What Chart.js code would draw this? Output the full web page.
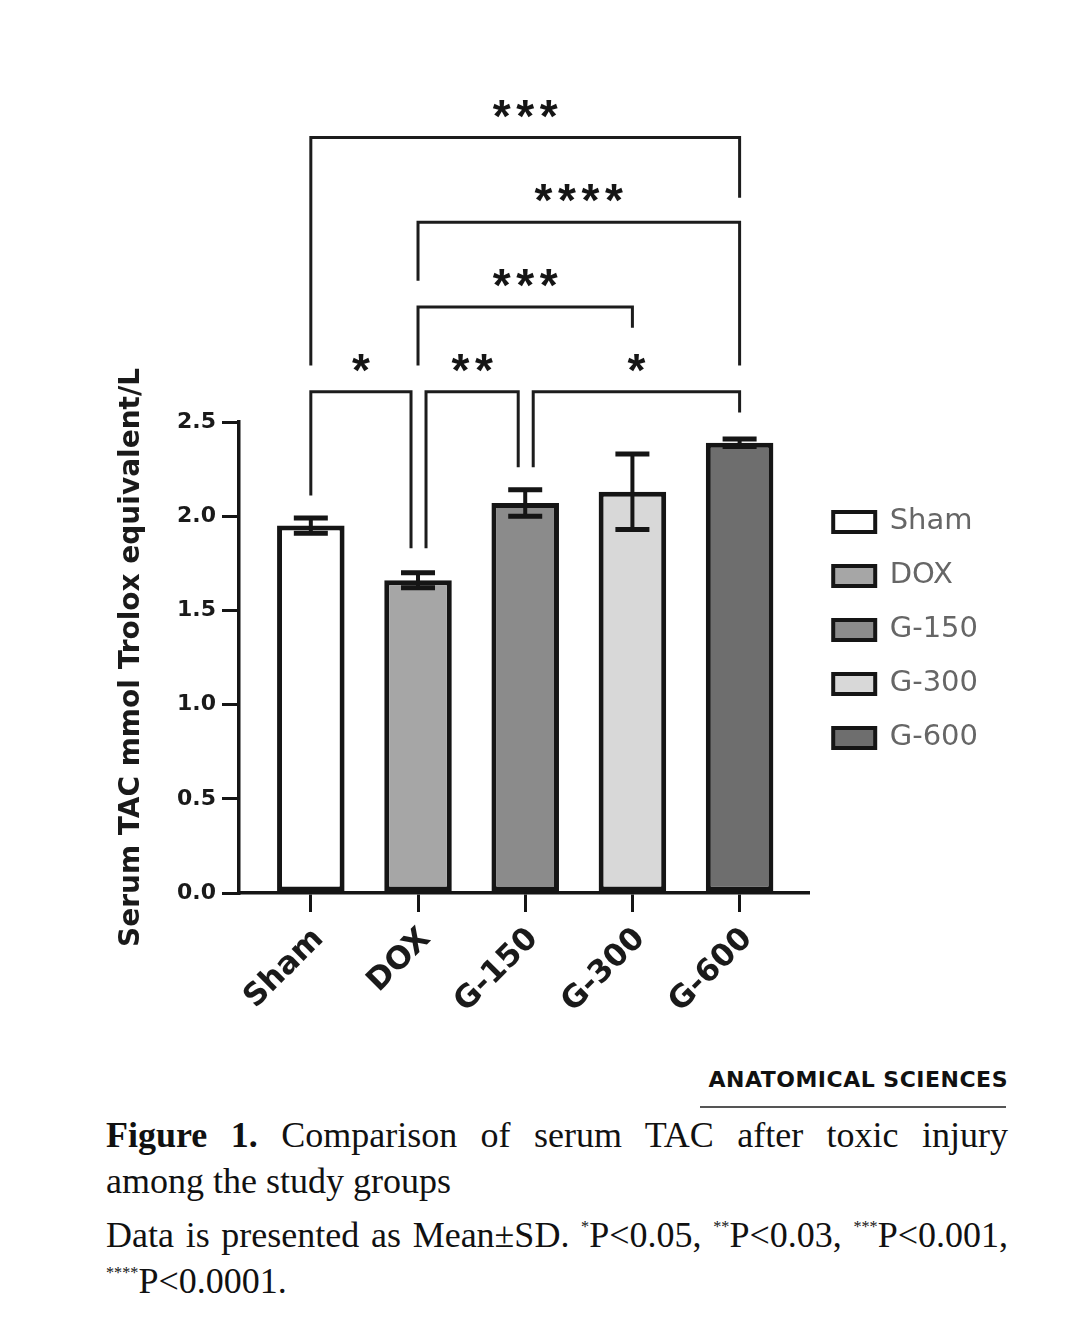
<!DOCTYPE html>
<html>
<head>
<meta charset="utf-8">
<script src="https://cdn.jsdelivr.net/npm/chart.js@4.4.1/dist/chart.umd.min.js"></script>
<style>
  body { margin: 0; background: #fff; }
  #page { position: relative; width: 1074px; height: 1336px; overflow: hidden; }
  #chartBox { position: absolute; left: 0; top: 0; width: 1074px; height: 1050px; }
  .logo {
    position: absolute; left: 560px; top: 1067px; width: 448px; text-align: right;
    font: bold 22px 'DejaVu Sans', sans-serif; letter-spacing: 0.5px; line-height: 26px; color: #111;
  }
  .logo-rule { position: absolute; left: 700px; top: 1106px; width: 306px; height: 1.5px; background: #555; }
  .caption {
    position: absolute; left: 106px; top: 1112px; width: 902px;
    font: 36px 'Liberation Serif', 'Times New Roman', serif; line-height: 46px; color: #111;
    text-align: justify;
  }
  .caption p { margin: 0 0 8px 0; }
  .caption .full { display: block; text-align: justify; text-align-last: justify; }
  .caption sup { font-size: 0.45em; vertical-align: 0.9em; line-height: 0; }
</style>
</head>
<body>
<div id="page">
  <div id="chartBox"><canvas id="tacChart"></canvas></div>
  <div class="logo">ANATOMICAL SCIENCES</div>
  <div class="logo-rule"></div>
  <div class="caption">
    <p><span class="full"><b>Figure 1.</b> Comparison of serum TAC after toxic injury</span>among the study groups</p>
    <p><span class="full">Data is presented as Mean±SD. <sup>*</sup>P&lt;0.05, <sup>**</sup>P&lt;0.03, <sup>***</sup>P&lt;0.001,</span><sup>****</sup>P&lt;0.0001.</p>
  </div>
</div>
<script>
const groups = ['Sham', 'DOX', 'G-150', 'G-300', 'G-600'];
const meanTAC = [1.95, 1.66, 2.07, 2.13, 2.39];
const sdTAC = [0.04, 0.04, 0.07, 0.20, 0.02];
const yTicks = [0, 0.5, 1.0, 1.5, 2.0, 2.5];

// comparisons drawn above the bars: bar line height and where each leg stops, in y units
const brackets = [
    { from: 0, to: 1, stars: '*', at: 2.66, legs: [2.11, 1.83] },
    { from: 1, to: 2, stars: '**', at: 2.66, legs: [1.83, 2.26] },
    { from: 2, to: 4, stars: '*', at: 2.66, legs: [2.26, 2.55] },
    { from: 1, to: 3, stars: '***', at: 3.11, legs: [2.80, 3.00] },
    { from: 1, to: 4, stars: '****', at: 3.56, legs: [3.25, 2.80] },
    { from: 0, to: 4, stars: '***', at: 4.01, legs: [2.80, 3.69] }
];

const ink = '#151515';
const barFills = ['#ffffff', '#a6a6a6', '#8b8b8b', '#d8d8d8', '#6e6e6e'];

const errorBars = {
    id: 'errorBars',
    afterDatasetsDraw: function (chart) {
        const ctx = chart.ctx;
        const y = chart.scales.y;
        const bars = chart.getDatasetMeta(0).data;

        ctx.save();
        ctx.strokeStyle = ink;
        bars.forEach(function (bar, i) {
            const top = y.getPixelForValue(meanTAC[i] + sdTAC[i]);
            const bottom = y.getPixelForValue(meanTAC[i] - sdTAC[i]);
            ctx.lineWidth = 4;
            ctx.beginPath();
            ctx.moveTo(bar.x, top);
            ctx.lineTo(bar.x, bottom);
            ctx.stroke();
            ctx.lineWidth = 5;
            ctx.beginPath();
            ctx.moveTo(bar.x - 17, top);
            ctx.lineTo(bar.x + 17, top);
            ctx.moveTo(bar.x - 17, bottom);
            ctx.lineTo(bar.x + 17, bottom);
            ctx.stroke();
        });
        ctx.restore();
    }
};

const sigBrackets = {
    id: 'sigBrackets',
    afterDraw: function (chart) {
        const ctx = chart.ctx;
        const x = chart.scales.x;
        const y = chart.scales.y;

        // legs that meet another bracket on the same row get pushed apart
        const sharesEnd = function (b, group) {
            return brackets.some(function (o) {
                return o !== b && o.at === b.at && (o.from === group || o.to === group);
            });
        };

        ctx.save();
        ctx.strokeStyle = '#1c1c1c';
        ctx.lineWidth = 3;
        ctx.fillStyle = ink;
        ctx.font = 'bold 46px "Liberation Sans"';
        ctx.textAlign = 'center';
        ctx.textBaseline = 'alphabetic';
        const m = ctx.measureText('*');
        const starShift = (m.actualBoundingBoxAscent - m.actualBoundingBoxDescent) / 2;

        brackets.forEach(function (b) {
            const x1 = x.getPixelForValue(b.from) + (sharesEnd(b, b.from) ? 8 : 0);
            const x2 = x.getPixelForValue(b.to) - (sharesEnd(b, b.to) ? 7 : 0);
            const yLine = y.getPixelForValue(b.at);

            ctx.beginPath();
            ctx.moveTo(x1, y.getPixelForValue(b.legs[0]));
            ctx.lineTo(x1, yLine);
            ctx.lineTo(x2, yLine);
            ctx.lineTo(x2, y.getPixelForValue(b.legs[1]));
            ctx.stroke();

            const n = b.stars.length;
            const mid = (x1 + x2) / 2;
            for (let k = 0; k < n; k++) {
                ctx.fillText('*', mid + (k - (n - 1) / 2) * 23.5, yLine - 29 + starShift);
            }
        });
        ctx.restore();
    }
};

new Chart(document.getElementById('tacChart'), {
    type: 'bar',
    data: {
        labels: groups,
        datasets: [{
            label: 'Serum TAC',
            data: groups.map(function (g, i) { return { x: i, y: meanTAC[i] }; }),
            backgroundColor: barFills,
            borderColor: ink,
            borderWidth: 5,
            borderSkipped: false,
            barPercentage: 0.63,
            categoryPercentage: 1
        }]
    },
    options: {
        responsive: true,
        maintainAspectRatio: false,
        animation: false,
        layout: { padding: { top: 422, left: 111, right: 86, bottom: 0 } },
        plugins: {
            tooltip: { enabled: false },
            legend: {
                position: 'right',
                align: 'start',
                fullSize: false,
                title: { display: true, text: '', padding: { top: 46, bottom: 0 }, font: { size: 12 } },
                labels: {
                    boxWidth: 42,
                    boxHeight: 20,
                    padding: 25,
                    color: '#4a4a4a',
                    font: { family: 'DejaVu Sans', size: 29 },
                    generateLabels: function () {
                        return groups.map(function (g, i) {
                            return { text: g, fillStyle: barFills[i], strokeStyle: ink, lineWidth: 4, hidden: false, index: i };
                        });
                    }
                }
            }
        },
        scales: {
            x: {
                type: 'linear',
                min: -0.67,
                max: 4.64,
                offset: false,
                afterBuildTicks: function (s) {
                    s.ticks = groups.map(function (g, i) { return { value: i }; });
                },
                afterFit: function (s) { s.height = 157; },
                grid: { offset: false, drawOnChartArea: false, tickLength: 19, lineWidth: 3, color: ink },
                border: { color: ink, width: 3.5 },
                ticks: {
                    autoSkip: false,
                    minRotation: 45,
                    maxRotation: 45,
                    padding: 9,
                    labelOffset: 8,
                    color: '#1a1a1a',
                    font: { family: 'DejaVu Sans', size: 31, weight: 'bold' },
                    callback: function (v) { return groups[v]; }
                }
            },
            y: {
                min: 0,
                max: 2.5,
                afterBuildTicks: function (s) {
                    s.ticks = yTicks.map(function (v) { return { value: v }; });
                },
                afterFit: function (s) { s.width = 128; },
                grid: { drawOnChartArea: false, tickLength: 17, lineWidth: 3, color: ink },
                border: { color: ink, width: 3.5 },
                ticks: {
                    padding: 6,
                    color: '#1a1a1a',
                    font: { family: 'DejaVu Sans', size: 22, weight: 'bold' },
                    callback: function (v) { return v.toFixed(1); }
                },
                title: {
                    display: true,
                    text: 'Serum TAC mmol Trolox equivalent/L',
                    color: '#1a1a1a',
                    font: { family: 'DejaVu Sans', size: 28, weight: 'bold' },
                    padding: { top: 4, bottom: 4 }
                }
            }
        }
    },
    plugins: [errorBars, sigBrackets]
});
</script>
</body>
</html>
